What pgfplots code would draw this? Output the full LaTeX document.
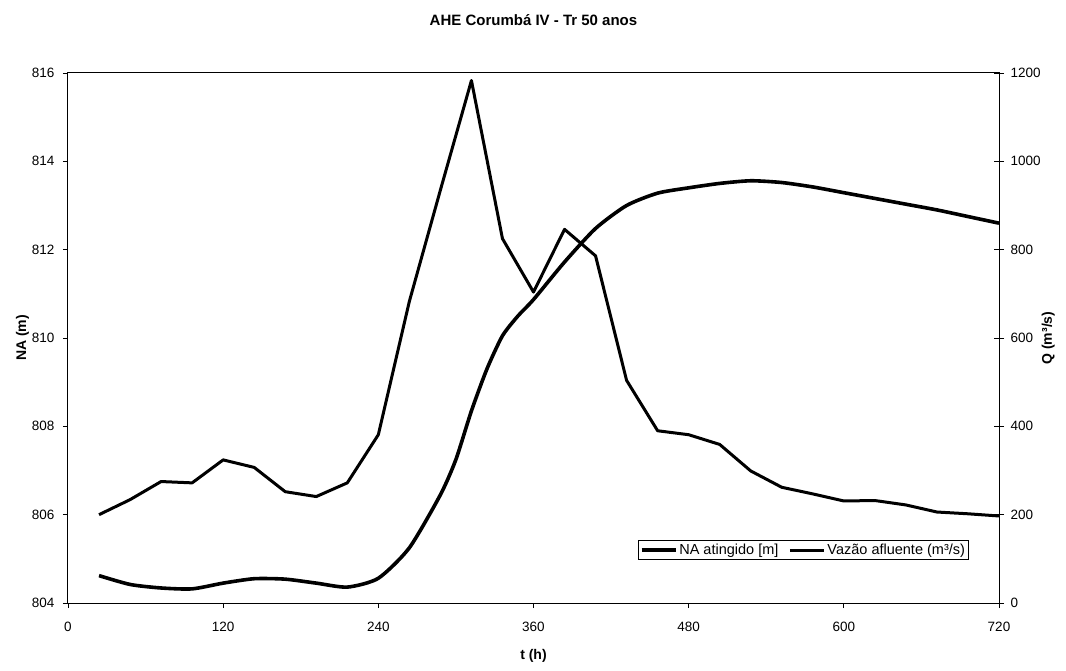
\documentclass[border=0pt]{standalone}
\usepackage{fontspec}
\setmainfont{Liberation Sans}
\usepackage{pgfplots}
\pgfplotsset{compat=1.18}
\begin{document}
\begin{tikzpicture}[x=1pt,y=1pt]
\useasboundingbox (-68,-67) rectangle (998,603);
\pgfplotsset{
  common/.style={
    at={(0,0)}, anchor=south west, scale only axis,
    width=931pt, height=530pt,
    xmin=0, xmax=720,
    axis line style={line width=1pt},
    tick style={black, line width=0.9pt},
    ticklabel style={font=\fontsize{13.5}{15}\selectfont},
    /pgf/number format/assume math mode=true,
    /pgf/number format/1000 sep={},
    label style={font=\fontsize{14}{16}\selectfont\bfseries},
  }
}
\begin{axis}[common,
  ymin=804, ymax=816,
  xtick={0,120,...,720}, ytick={804,806,...,816},
  xtick pos=lower, ytick pos=left,
  tick align=outside, major tick length=5pt,
  xticklabel style={yshift=-11pt},
  yticklabel style={xshift=-5pt},
  title={AHE Corumbá IV - Tr 50 anos},
  title style={at={(axis description cs:0.5,1)}, anchor=center, yshift=47pt, font=\fontsize{15}{17}\selectfont\bfseries},
  xlabel={t (h)},
  xlabel style={at={(axis description cs:0.5,-0.1)}, anchor=center},
  ylabel={NA (m)},
  ylabel style={at={(axis description cs:-0.049,0.5)}, anchor=center},
]
\addplot[black, line width=3.6pt, smooth, tension=0.4, line join=round] coordinates {
(24,804.62) (48,804.42) (72,804.34) (96,804.32) (120,804.45) (144,804.55)
(168,804.54) (192,804.45) (216,804.36) (240,804.56) (264,805.25) (288,806.45)
(300,807.25) (312,808.35) (324,809.3) (336,810.05) (348,810.5) (360,810.87)
(384,811.72) (408,812.48) (432,813.0) (456,813.28) (480,813.4) (504,813.5)
(528,813.56) (552,813.52) (576,813.42) (600,813.29) (624,813.16) (648,813.03)
(672,812.9) (696,812.75) (720,812.6)
};
\end{axis}
\begin{axis}[common,
  ymin=0, ymax=1200,
  xtick=\empty, ytick={0,200,...,1200},
  ytick pos=right, yticklabel pos=right,
  tick align=center, major tick length=10pt,
  yticklabel style={xshift=3pt},
  ylabel={Q (m³/s)},
  ylabel style={at={(axis description cs:1.053,0.5)}, anchor=center},
  legend style={at={(axis description cs:0.612,0.081)}, anchor=south west,
    legend columns=2, draw=black, line width=0.9pt,
    font=\fontsize{14.5}{16}\selectfont, inner sep=1.5pt,
    /tikz/every even column/.append style={column sep=8pt}},
  legend image code/.code={\draw[#1] (0pt,0pt) -- (34pt,0pt);},
]
\addlegendimage{black, line width=3.6pt}
\addlegendentry{NA atingido [m]}
\addplot[black, line width=3pt, line join=round] coordinates {
(24,200) (48,234) (72,275) (96,272) (120,324) (144,307) (168,252) (192,241)
(216,272) (240,381) (264,683) (288,935) (312,1183) (336,825) (360,704)
(384,846) (408,786) (432,504) (456,390) (480,381) (504,359) (528,299)
(552,262) (576,247) (600,231) (624,232) (648,222) (672,206) (696,202) (720,197)
};
\addlegendentry{Vazão afluente (m³/s)}
\end{axis}
\end{tikzpicture}
\end{document}
